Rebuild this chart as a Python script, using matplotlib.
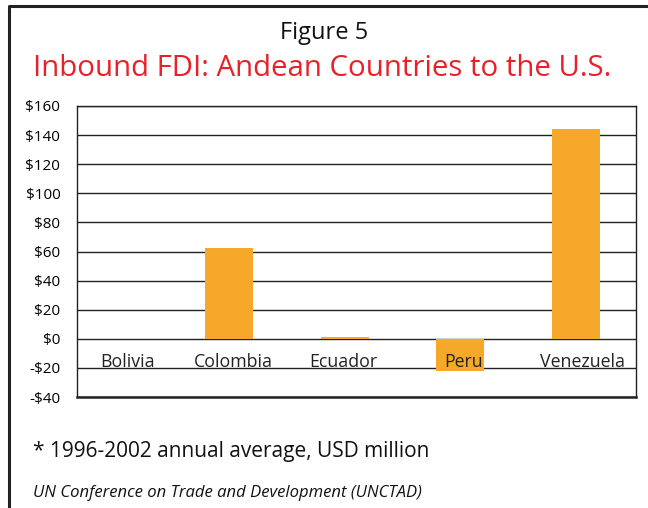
import matplotlib
matplotlib.use("Agg")
import matplotlib.pyplot as plt
from matplotlib.lines import Line2D
from matplotlib.transforms import offset_copy

categories = ["Bolivia", "Colombia", "Ecuador", "Peru", "Venezuela"]
values = [0.0, 62.5, 1.5, -22.0, 144.0]
yticks = [-40, -20, 0, 20, 40, 60, 80, 100, 120, 140, 160]
ytick_labels = ["-$40", "-$20", "$0", "$20", "$40", "$60", "$80", "$100", "$120", "$140", "$160"]

plt.rcParams['font.family'] = ['Open Sans', 'DejaVu Sans']

W, H = 648, 508
fig = plt.figure(figsize=(W / 100, H / 100), dpi=100)

def fx(px):
    return px / W

def fy(py):
    return 1 - py / H

ax = fig.add_axes([fx(77), fy(397), fx(636) - fx(77), fy(106) - fy(397)])
x = list(range(len(categories)))
ax.bar(x, values, width=0.415, color="#f5a82a", zorder=3)
ax.set_xlim(-0.32, 4.52)
ax.set_ylim(-40, 160)
ax.set_yticks(yticks)
ax.set_yticklabels(ytick_labels, fontsize=11)
ax.set_xticks([])
ax.tick_params(axis='y', length=0, pad=12)
for t in yticks:
    ax.axhline(t, color="#222222", lw=1.0, zorder=2)
for s in ["left", "right", "top"]:
    ax.spines[s].set_linewidth(1.0)
    ax.spines[s].set_color("#222222")
ax.spines["bottom"].set_linewidth(1.8)
ax.spines["bottom"].set_color("#222222")

label_shift_px = [14, 4, -2, 3, 7]
for xi, c, dx in zip(x, categories, label_shift_px):
    tr = offset_copy(ax.transData, fig=fig, x=dx * 0.72, y=0, units='points')
    ax.text(xi, -19.3, c, ha="center", va="baseline", fontsize=12.8, color="#222222",
            zorder=4, transform=tr)

fig.text(0.5, fy(33), "Figure 5", ha="center", va="center", fontsize=17, color="#111111")
fig.text(fx(33), fy(68), "Inbound FDI: Andean Countries to the U.S.", ha="left", va="center",
         fontsize=21.2, color="#e8202a")
fig.text(fx(33), fy(451), "* 1996-2002 annual average, USD million", ha="left", va="center",
         fontsize=15, color="#111111")
fig.text(fx(33), fy(493), "UN Conference on Trade and Development (UNCTAD)", ha="left", va="center",
         fontsize=12, style="italic", color="#111111")

fig.add_artist(Line2D([fx(9), fx(9), 1.0], [0.0, fy(6), fy(6)], transform=fig.transFigure,
                      color="#222222", lw=2.2))

fig.savefig("out.png", dpi=100)
